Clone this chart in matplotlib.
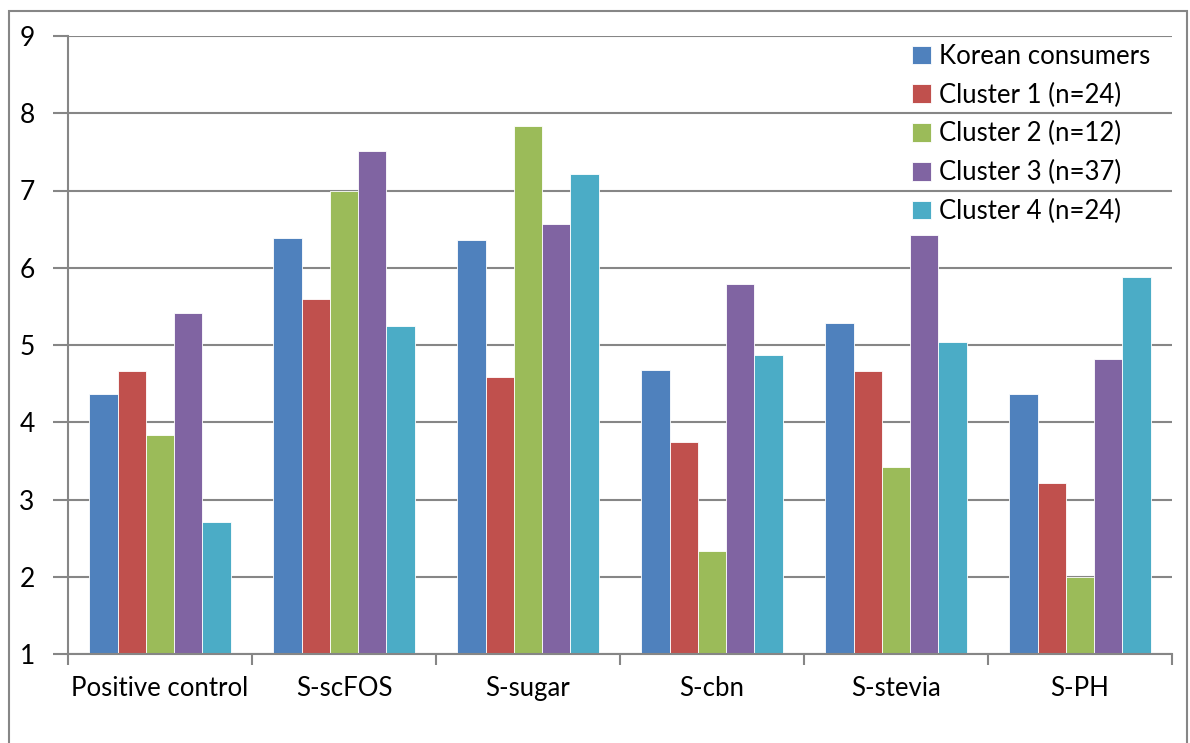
import matplotlib.pyplot as plt
import numpy as np
from matplotlib.patches import Rectangle

plt.rcParams['font.family'] = ['Lato', 'DejaVu Sans']

categories = ["Positive control", "S-scFOS", "S-sugar", "S-cbn", "S-stevia", "S-PH"]
series_names = [
    "Korean consumers",
    "Cluster 1 (n=24)",
    "Cluster 2 (n=12)",
    "Cluster 3 (n=37)",
    "Cluster 4 (n=24)",
]
korean = [4.37, 6.39, 6.36, 4.68, 5.29, 4.36]
cluster1 = [4.66, 5.59, 4.59, 3.75, 4.66, 3.21]
cluster2 = [3.84, 7.00, 7.84, 2.33, 3.42, 2.00]
cluster3 = [5.42, 7.51, 6.56, 5.79, 6.43, 4.82]
cluster4 = [2.71, 5.25, 7.21, 4.87, 5.04, 5.88]
colors = ["#4F81BD", "#C0504D", "#9BBB59", "#8064A2", "#4BACC6"]

fs = 18.5

fig = plt.figure(figsize=(11.9, 7.43), dpi=100)
ax = fig.add_axes([68 / 1190, 1 - 654 / 743, (1172 - 68) / 1190, (654 - 36) / 743])

# outer chart frame
fig.add_artist(Rectangle((9 / 1190, -0.05), (1187 - 9) / 1190, 1.05 - 11 / 743,
                         transform=fig.transFigure, fill=False,
                         edgecolor="#868686", linewidth=1.5))

x = np.arange(len(categories))
width = 1 / 6.5
base = 1
for i, (vals, name, c) in enumerate(zip(
        [korean, cluster1, cluster2, cluster3, cluster4], series_names, colors)):
    offs = (i - 2) * width
    ax.bar(x + offs, np.array(vals) - base, width, bottom=base, color=c,
           edgecolor="#ffffff", linewidth=0.6, label=name, zorder=3)

ax.set_xlim(-0.5, len(categories) - 0.5)
ax.set_ylim(1, 9)
ax.set_yticks(range(1, 10))
ax.set_xticks(x)
ax.set_xticklabels(categories)
ax.set_xticks(np.arange(-0.5, len(categories)), minor=True)
ax.tick_params(axis="x", which="major", length=0, pad=16, labelsize=fs)
ax.tick_params(axis="x", which="minor", length=8, width=1.5, color="#868686")
ax.tick_params(axis="y", length=11, width=1.5, color="#868686", labelsize=19, pad=13)

ax.grid(axis="y", color="#868686", linewidth=1.5, zorder=0)
for s in ["top", "right"]:
    ax.spines[s].set_visible(False)
for s in ["left", "bottom"]:
    ax.spines[s].set_color("#868686")
    ax.spines[s].set_linewidth(1.5)
    ax.spines[s].set_zorder(4)

ax.legend(loc="upper left", bbox_to_anchor=((912 - 68) / 1104, 0.987), frameon=False,
          fontsize=fs, handlelength=0.75, handleheight=0.75, handletextpad=0.3,
          labelspacing=0.53, borderaxespad=0, borderpad=0)

fig.savefig("out.png")
